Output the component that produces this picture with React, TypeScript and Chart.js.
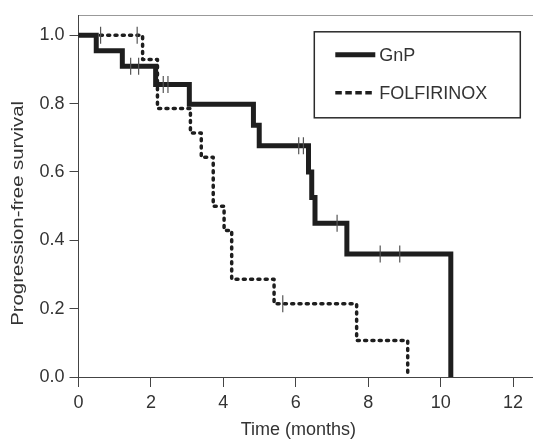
import React, { useEffect, useRef } from "react";
import { Chart, registerables } from "chart.js";

Chart.register(...registerables);

// GnP Kaplan-Meier steps (time in months, survival)
const gnpTimes = [0, 0.49, 1.21, 2.13, 3.06, 4.83, 4.99, 6.35, 6.44, 6.53, 7.41, 10.28];
const gnpSurv = [1.0, 0.955, 0.909, 0.856, 0.798, 0.737, 0.677, 0.6, 0.525, 0.45, 0.36, 0.0];
const gnpCensorTimes = [1.44, 1.66, 2.34, 2.47, 6.08, 6.21, 7.14, 8.33, 8.87];
const gnpCensorSurv = [0.909, 0.909, 0.856, 0.856, 0.677, 0.677, 0.45, 0.36, 0.36];

// FOLFIRINOX Kaplan-Meier steps
const folTimes = [0, 1.77, 2.18, 3.09, 3.39, 3.72, 4.02, 4.23, 5.4, 7.68, 9.09];
const folSurv = [1.0, 0.929, 0.786, 0.714, 0.643, 0.5, 0.429, 0.286, 0.214, 0.107, 0.0];
const folCensorTimes = [0.61, 1.62, 5.64];
const folCensorSurv = [1.0, 1.0, 0.214];

const xTicks = [0, 2, 4, 6, 8, 10, 12];
const yTicks = [0, 0.2, 0.4, 0.6, 0.8, 1.0];
const seriesLabels = ["GnP", "FOLFIRINOX"];
const xTitle = "Time (months)";
const yTitle = "Progression-free survival";

const FONT = "'Liberation Sans', Arial, Helvetica, sans-serif";
const LINE = "#1e1e1e";
const AXIS = "#444";
const TEXT = "#333";

const legendBox = {
  id: "legendBox",
  afterDraw(chart: any) {
    const { ctx, chartArea } = chart;
    const w = 206;
    const h = 86;
    const left = chartArea.right - 12 - w;
    const top = chartArea.top + 16;
    ctx.save();
    ctx.strokeStyle = "#2a2a2a";
    ctx.lineWidth = 1.5;
    ctx.strokeRect(left, top, w, h);
    const rows = [top + 23, top + 61];
    chart.data.datasets
      .filter((d: any) => d.isSeries)
      .forEach((d: any, i: number) => {
        const y = rows[i];
        ctx.beginPath();
        ctx.strokeStyle = LINE;
        ctx.lineWidth = i === 0 ? 5 : 3.5;
        ctx.setLineDash(i === 0 ? [] : [6.5, 3.5]);
        ctx.lineCap = "butt";
        ctx.moveTo(left + 21, y);
        ctx.lineTo(left + 61, y);
        ctx.stroke();
        ctx.setLineDash([]);
        ctx.fillStyle = TEXT;
        ctx.font = `18px ${FONT}`;
        ctx.textBaseline = "middle";
        ctx.textAlign = "left";
        ctx.fillText(d.label, left + 65, y + 1);
      });
    ctx.restore();
  },
};

const axisTitles = {
  id: "axisTitles",
  afterDraw(chart: any) {
    const { ctx, chartArea } = chart;
    ctx.save();
    ctx.fillStyle = TEXT;
    ctx.textAlign = "center";
    ctx.textBaseline = "middle";
    // x title
    ctx.font = `18px ${FONT}`;
    ctx.fillText(xTitle, (chartArea.left + chartArea.right) / 2 - 7, chartArea.bottom + 53);
    // y title (slightly stretched along its length, as in the reference)
    ctx.font = `16px ${FONT}`;
    ctx.translate(18.5, (chartArea.top + chartArea.bottom) / 2 + 17);
    ctx.rotate(-Math.PI / 2);
    ctx.scale(1.27, 1);
    ctx.fillText(yTitle, 0, 0);
    ctx.restore();
  },
};

export default function App() {
  const ref = useRef<HTMLCanvasElement | null>(null);

  useEffect(() => {
    if (!ref.current) return;
    const gnpData = gnpTimes.map((t, i) => ({ x: t, y: gnpSurv[i] }));
    const folData = folTimes.map((t, i) => ({ x: t, y: folSurv[i] }));
    const censorData = [
      ...gnpCensorTimes.map((t, i) => ({ x: t, y: gnpCensorSurv[i] })),
      ...folCensorTimes.map((t, i) => ({ x: t, y: folCensorSurv[i] })),
    ];

    const chart = new Chart(ref.current, {
      type: "line",
      data: {
        datasets: [
          {
            type: "scatter",
            label: "censored",
            data: censorData,
            pointStyle: "line",
            rotation: 90,
            radius: 8.5,
            borderWidth: 1.2,
            borderColor: "#555",
            backgroundColor: "#555",
            order: 0,
          } as any,
          {
            label: seriesLabels[0],
            isSeries: true,
            data: gnpData,
            stepped: "before",
            borderColor: LINE,
            borderWidth: 5,
            borderCapStyle: "butt",
            borderJoinStyle: "miter",
            pointRadius: 0,
            fill: false,
            order: 1,
          } as any,
          {
            label: seriesLabels[1],
            isSeries: true,
            data: folData,
            stepped: "before",
            borderColor: LINE,
            borderWidth: 3.5,
            borderDash: [2, 5.3],
            borderCapStyle: "round",
            borderJoinStyle: "round",
            pointRadius: 0,
            fill: false,
            order: 2,
          } as any,
        ],
      },
      options: {
        animation: false,
        responsive: false,
        devicePixelRatio: 1,
        layout: { padding: { top: 13, left: 0, right: 0, bottom: 0 } },
        plugins: {
          legend: { display: false },
          tooltip: { enabled: false },
        },
        scales: {
          x: {
            type: "linear",
            position: "bottom",
            min: 0,
            max: 12.53,
            afterBuildTicks: (s: any) => {
              s.ticks = xTicks.map((v) => ({ value: v }));
            },
            afterFit: (s: any) => {
              s.height = 63;
            },
            grid: {
              display: true,
              drawOnChartArea: false,
              drawTicks: true,
              tickLength: 10,
              color: AXIS,
              lineWidth: 1,
            },
            border: { display: true, color: AXIS, width: 1 },
            ticks: {
              autoSkip: false,
              maxRotation: 0,
              padding: 5,
              color: TEXT,
              font: { size: 18, family: FONT },
              callback: (v: any) => String(v),
            },
            title: { display: false },
          },
          x2: {
            type: "linear",
            position: "top",
            min: 0,
            max: 12.53,
            afterFit: (s: any) => {
              s.height = 0;
            },
            grid: { display: true, drawOnChartArea: false, drawTicks: false },
            border: { display: true, color: "#999", width: 1 },
            ticks: { display: false },
          },
          y: {
            type: "linear",
            position: "left",
            min: 0,
            max: 1.057,
            afterBuildTicks: (s: any) => {
              s.ticks = yTicks.map((v) => ({ value: v }));
            },
            afterFit: (s: any) => {
              s.width = 78.5;
            },
            grid: {
              display: true,
              drawOnChartArea: false,
              drawTicks: true,
              tickLength: 9,
              color: AXIS,
              lineWidth: 1,
            },
            border: { display: true, color: AXIS, width: 1 },
            ticks: {
              autoSkip: false,
              padding: 5,
              color: TEXT,
              font: { size: 18, family: FONT },
              callback: (v: any) => Number(v).toFixed(1),
            },
            title: { display: false },
          },
        },
      } as any,
      plugins: [legendBox, axisTitles],
    });
    return () => chart.destroy();
  }, []);

  return (
    <div style={{ position: "fixed", left: 0, top: 0, width: 542, height: 440 }}>
      <canvas ref={ref} width={542} height={440} style={{ display: "block" }} />
    </div>
  );
}
